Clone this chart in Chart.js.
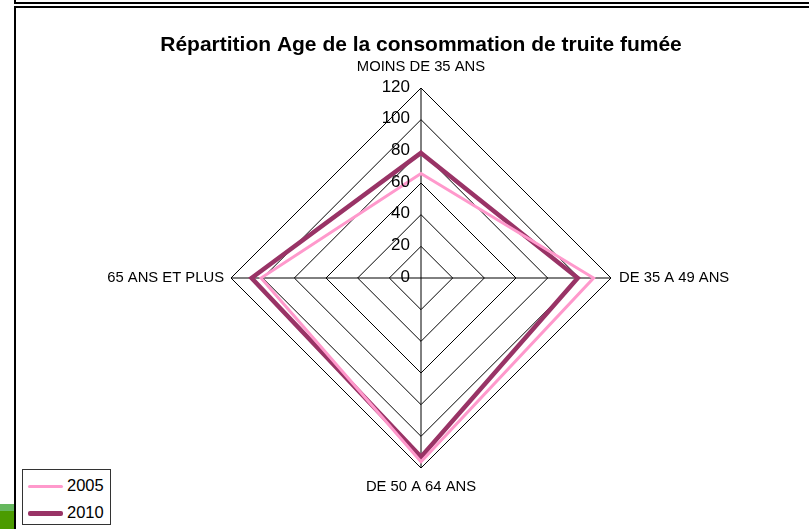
<!DOCTYPE html>
<html>
<head>
<meta charset="utf-8">
<script src="https://cdn.jsdelivr.net/npm/chart.js@4/dist/chart.umd.min.js"></script>
<style>
  html, body { margin: 0; padding: 0; background: #fff; }
  body { width: 809px; height: 529px; position: relative; overflow: hidden; font-family: "Liberation Sans", Arial, sans-serif; }
  #topbar { position: absolute; left: 14px; top: 0; width: 795px; height: 2px; border-left: 2px solid #000; border-bottom: 2px solid #000; }
  #frame { position: absolute; left: 14px; top: 6px; width: 795px; height: 523px; border-left: 2px solid #000; border-top: 2px solid #000; }
  #green { position: absolute; left: 0; top: 504px; width: 14px; height: 25px; background: #4b9b00; border-top: 7px solid #66b85e; box-sizing: border-box; }
  #wrap { position: absolute; left: 0; top: 0; width: 809px; height: 529px; }
  #legend { position: absolute; left: 22px; top: 469px; width: 89px; height: 56px; border: 1px solid #333; background: #fff; box-sizing: border-box; }
  .item { position: absolute; left: 5px; height: 20px; font-size: 16.5px; line-height: 20px; color: #000; }
  .item span { display: inline-block; width: 35px; vertical-align: middle; margin-right: 4px; border-radius: 2px; }
</style>
</head>
<body>
<div id="topbar"></div>
<div id="frame"></div>
<div id="green"></div>
<div id="wrap"><canvas id="chart" width="809" height="529"></canvas></div>
<div id="legend"></div>
<script>
const categories = ["MOINS DE 35 ANS", "DE 35 A 49 ANS", "DE 50 A 64 ANS", "65 ANS ET PLUS"];
const series2005 = [66, 109, 116, 101];
const series2010 = [79, 99, 113, 107];
const tickValues = [0, 20, 40, 60, 80, 100, 120];

const seriesInfo = [
  { label: "2005", data: series2005, color: "#ff99cc", width: 3 },
  { label: "2010", data: series2010, color: "#993366", width: 4.5 }
];

// tick labels left of the vertical axis, point labels outside the polygon
const labelPlugin = {
  id: "labels",
  afterDraw(chart) {
    const s = chart.scales.r;
    const ctx = chart.ctx;
    ctx.save();
    ctx.fillStyle = "#000";
    ctx.font = "17px 'Liberation Sans', Arial, sans-serif";
    ctx.textAlign = "right";
    ctx.textBaseline = "middle";
    tickValues.forEach(v => {
      const d = s.getDistanceFromCenterForValue(v);
      ctx.fillText(String(v), s.xCenter - 11, s.yCenter - d - 1);
    });
    ctx.font = "14.8px 'Liberation Sans', Arial, sans-serif";
    categories.forEach((c, i) => {
      const p = s.getPointPosition(i, s.drawingArea);
      if (i === 0) { ctx.textAlign = "center"; ctx.fillText(c, p.x, p.y - 21); }
      else if (i === 1) { ctx.textAlign = "left"; ctx.fillText(c, p.x + 8, p.y); }
      else if (i === 2) { ctx.textAlign = "center"; ctx.fillText(c, p.x, p.y + 19); }
      else { ctx.textAlign = "right"; ctx.fillText(c, p.x - 7, p.y); }
    });
    ctx.restore();
  }
};

new Chart(document.getElementById("chart"), {
  type: "radar",
  data: {
    labels: categories,
    datasets: seriesInfo.map(s => ({
      label: s.label, data: s.data, borderColor: s.color, backgroundColor: s.color,
      borderWidth: s.width, fill: false, pointRadius: 0, pointHoverRadius: 0, tension: 0
    }))
  },
  options: {
    responsive: false,
    animation: false,
    layout: { padding: { left: 33, right: 0, top: 0, bottom: 61 } },
    plugins: {
      legend: { display: false },
      tooltip: { enabled: false },
      title: {
        display: true,
        text: "Répartition Age de la consommation de truite fumée",
        color: "#000",
        font: { family: "'Liberation Sans', Arial, sans-serif", size: 21, weight: "bold", lineHeight: 1.2 },
        padding: { top: 32.4, bottom: 30.4 }
      }
    },
    scales: {
      r: {
        min: 0, max: 120,
        ticks: { stepSize: 20, display: false },
        grid: { color: "#000", lineWidth: 1 },
        angleLines: { color: "#000", lineWidth: 1 },
        pointLabels: { display: false }
      }
    }
  },
  plugins: [labelPlugin]
});

const legend = document.getElementById("legend");
seriesInfo.forEach((s, i) => {
  const d = document.createElement("div");
  d.className = "item";
  d.style.top = (5 + i * 27) + "px";
  d.innerHTML = '<span style="height:' + s.width + 'px;background:' + s.color + '"></span>' + s.label;
  legend.appendChild(d);
});
</script>
</body>
</html>
